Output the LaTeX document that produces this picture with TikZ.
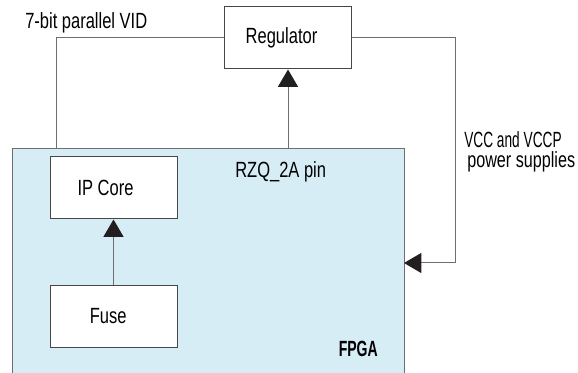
\documentclass[tikz,border=0pt]{standalone}
\usepackage{fontspec}
\setmainfont{Liberation Sans}[FakeStretch=0.75]
\usepackage{tikz}
\usetikzlibrary{arrows.meta,positioning}
\definecolor{fpgaBlue}{RGB}{214,237,245}
\definecolor{lineGray}{RGB}{110,110,110}
\definecolor{boxGray}{RGB}{70,70,70}
\definecolor{headBlack}{RGB}{35,31,32}
\tikzset{
  blk/.style={draw=boxGray,line width=0.75pt,fill=white,
              minimum width=95.25pt,minimum height=46.5pt,inner sep=0pt},
  wire/.style={draw=lineGray,line width=0.75pt},
  feed/.style={wire,-{Triangle[length=13pt,width=15pt,color=headBlack]}},
  lbl/.style={inner sep=0pt},
}

\begin{document}
\begin{tikzpicture}[x=0.75pt,y=-0.75pt,font=\fontsize{16.5}{19}\selectfont]
\useasboundingbox (0,0) rectangle (578,373);

%─── FPGA device (open at the bottom) ────────────────────────────────────────
\fill[fpgaBlue] (12,149) rectangle (404,373);
\draw[wire] (12,373) -- (12,149) -- (404,149) -- (404,373);
\coordinate (vidIn) at (56,149);
\coordinate (rzq) at (288,149);
\coordinate (pwrIn) at (404,263);
\coordinate (pwrCorner) at (455,263);

%─── Blocks ──────────────────────────────────────────────────────────────────
\node[blk] (reg) at (287.5,38) {\hspace*{-9pt}Regulator};
\node[blk] (ipcore) at (113.5,188) {\hspace*{-12pt}IP Core};
\node[blk] (fuse) at (113.5,316.5) {\hspace*{-8pt}Fuse};

%─── Connections ─────────────────────────────────────────────────────────────
\draw[wire] (reg.west) -| (vidIn);
\draw[feed] (rzq) -- (rzq |- reg.south);
\draw[feed] (reg.east) -| (pwrCorner) -- (pwrIn);
\draw[feed] (fuse) -- (ipcore);

%─── Labels ──────────────────────────────────────────────────────────────────
\node[lbl,anchor=base west] (vid) at (25,29) {7-bit parallel VID};
\node[lbl,anchor=base west] (rzqText) at (235,178) {RZQ\_2A pin};
\node[lbl,anchor=base west] (vcc) at (464,148) {\scalebox{0.83}[1]{VCC and VCCP}};
\node[lbl,anchor=base west] (pwr) at (467,168) {\scalebox{0.98}[1]{power supplies}};
\node[lbl,anchor=base east,font=\fontsize{16.5}{19}\selectfont\bfseries] (fpga) at (378,357) {\scalebox{0.85}[1]{FPGA}};

\end{tikzpicture}
\end{document}
